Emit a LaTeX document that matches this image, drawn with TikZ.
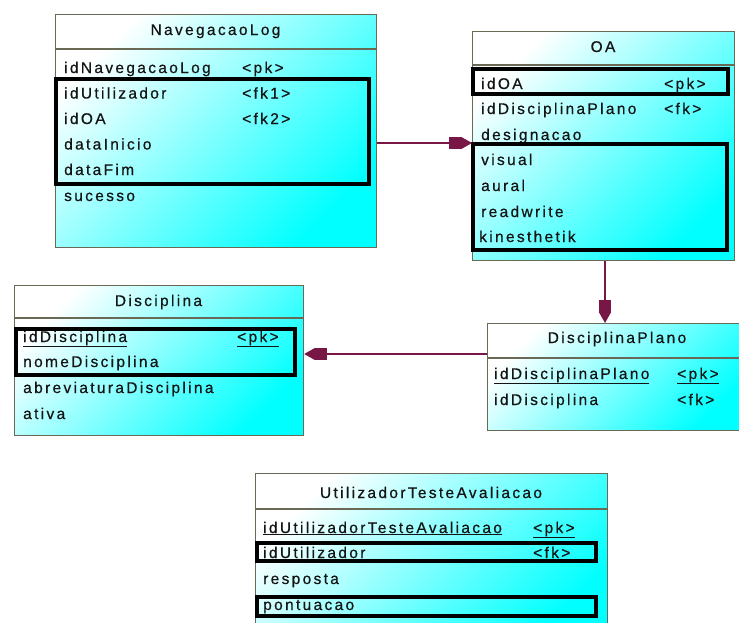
\documentclass[tikz,border=0pt]{standalone}
\usepackage{fontspec}
\usetikzlibrary{arrows.meta}
\newfontfamily\erfontfam{Liberation Sans}[LetterSpace=15,FakeBold=0.6]
\newcommand\erf{\erfontfam\fontsize{15.5pt}{18pt}\selectfont}
\definecolor{bordercol}{RGB}{105,105,85}
\definecolor{arrowcol}{RGB}{120,22,70}
\definecolor{textcol}{RGB}{20,20,20}
\tikzset{
  entity/.style={draw=bordercol, line width=1.2pt, shading=axis, top color=white,
    middle color=cyan!55!white, bottom color=cyan, shading angle=45,
    inner sep=0pt, anchor=north west},
  sepline/.style={draw=bordercol, line width=1.2pt},
  field/.style={anchor=base west, inner sep=0pt, font=\erf, text=textcol},
  etitle/.style={anchor=base, inner sep=0pt, font=\erf, text=textcol},
  hl/.style={draw=black, line width=4pt},
  fk/.style={draw=arrowcol, line width=1.5pt,
    -{Rectangle[length=12pt,width=12pt,sep=0pt]Triangle[length=11pt,width=12pt,sep=0pt]}}
}
\begin{document}
\begin{tikzpicture}[x=1pt,y=-1pt]
\fill[white] (0,0) rectangle (739,622);
\useasboundingbox (0,0) rectangle (739,622);

% NavegacaoLog
\node[entity, minimum width=321pt, minimum height=233pt] (nav) at (55,14) {};
\draw[sepline] (nav.west |- 0,49) -- (nav.east |- 0,49);
\node[etitle] (navt) at (215.5,35) {NavegacaoLog};
\node[field] (nav1) at (64,73) {\underline{idNavegacaoLog}};
\node[field] (nav1k) at (242,73) {\underline{<pk>}};
\node[field] (nav2) at (64,98.5) {idUtilizador};
\node[field] (nav2k) at (242,98.5) {<fk1>};
\node[field] (nav3) at (64,124) {idOA};
\node[field] (nav3k) at (242,124) {<fk2>};
\node[field] (nav4) at (64,149.5) {dataInicio};
\node[field] (nav5) at (64,175) {dataFim};
\node[field] (nav6) at (64,201) {sucesso};
\draw[hl] (56,79) rectangle (369,184);

% OA
\node[entity, minimum width=262pt, minimum height=229pt] (oa) at (472,31) {};
\draw[sepline] (oa.west |- 0,65) -- (oa.east |- 0,65);
\node[etitle] (oat) at (603,52) {OA};
\node[field] (oa1) at (481,89) {idOA};
\node[field] (oa1k) at (664,89) {<pk>};
\node[field] (oa2) at (481,114) {idDisciplinaPlano};
\node[field] (oa2k) at (664,114) {<fk>};
\node[field] (oa3) at (481,140) {designacao};
\node[field] (oa4) at (481,165) {visual};
\node[field] (oa5) at (481,191) {aural};
\node[field] (oa6) at (481,217) {readwrite};
\node[field] (oa7) at (479,242) {kinesthetik};
\draw[hl] (473,69) rectangle (728,94);
\draw[hl] (473,144) rectangle (727,250);

% Disciplina
\node[entity, minimum width=289pt, minimum height=150pt] (dis) at (14,285) {};
\draw[sepline] (dis.west |- 0,318) -- (dis.east |- 0,318);
\node[etitle] (dist) at (158.5,306) {Disciplina};
\node[field] (dis1) at (23,342) {\underline{idDisciplina}};
\node[field] (dis1k) at (237,342) {\underline{<pk>}};
\node[field] (dis2) at (23,367) {nomeDisciplina};
\node[field] (dis3) at (23,393) {abreviaturaDisciplina};
\node[field] (dis4) at (23,419) {ativa};
\draw[hl] (16,329) rectangle (295,375);

% DisciplinaPlano
\node[entity, minimum width=260pt, minimum height=107pt] (dp) at (487,323) {};
\draw[sepline] (dp.west |- 0,358) -- (dp.east |- 0,358);
\node[etitle] (dpt) at (617,343) {DisciplinaPlano};
\node[field] (dp1) at (494,379) {\underline{idDisciplinaPlano}};
\node[field] (dp1k) at (677,379) {\underline{<pk>}};
\node[field] (dp2) at (494,405) {idDisciplina};
\node[field] (dp2k) at (677,405) {<fk>};

% UtilizadorTesteAvaliacao
\node[entity, minimum width=352pt, minimum height=170pt] (uta) at (255,473) {};
\draw[sepline] (uta.west |- 0,509) -- (uta.east |- 0,509);
\node[etitle] (utat) at (431,498) {UtilizadorTesteAvaliacao};
\node[field] (uta1) at (263,533) {\underline{idUtilizadorTesteAvaliacao}};
\node[field] (uta1k) at (533,533) {\underline{<pk>}};
\node[field] (uta2) at (263,558) {idUtilizador};
\node[field] (uta2k) at (533,558) {<fk>};
\node[field] (uta3) at (263,584) {resposta};
\node[field] (uta4) at (263,610) {pontuacao};
\draw[hl] (257,543) rectangle (596,561);
\draw[hl] (257,597) rectangle (596,616);

% connectors
\draw[fk] (nav.east |- 0,143) -- (oa.west |- 0,143);
\draw[fk] (oa.south -| 605,0) -- (dp.north -| 605,0);
\draw[fk] (dp.west |- 0,354) -- (dis.east |- 0,354);
\end{tikzpicture}
\end{document}
